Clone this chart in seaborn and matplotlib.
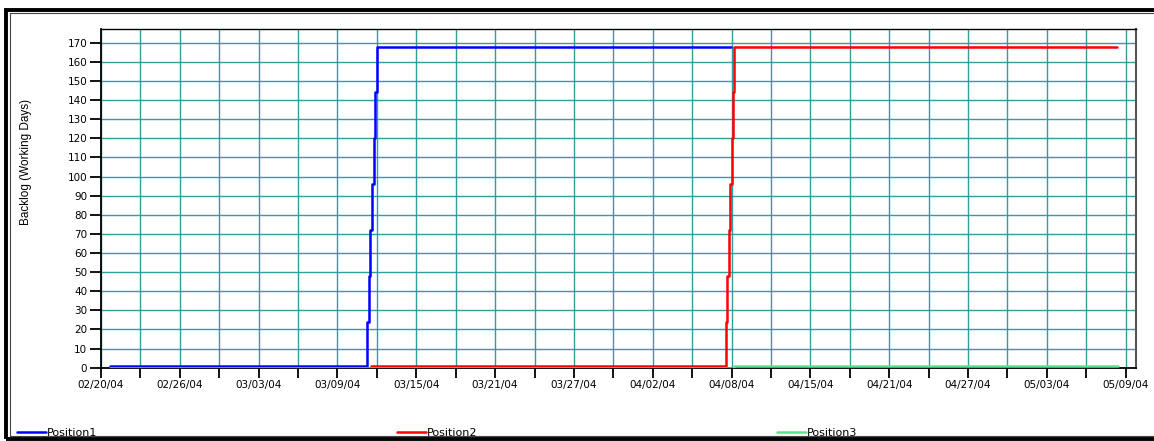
import numpy as np
import pandas as pd
import matplotlib
matplotlib.use("Agg")
import matplotlib.pyplot as plt
import seaborn as sns
from matplotlib.patches import Rectangle

# -----------------------------
# Data (days after 02/20/04, backlog in working days)
# -----------------------------
p1_days = [0.7, 20.48, 20.64, 20.76, 20.89, 21.02, 21.12, 21.28, 48.6]
p1_vals = [1, 24, 48, 72, 96, 120, 144, 168, 168]

p2_days = [20.8, 48.16, 48.28, 48.39, 48.49, 48.62, 48.70, 48.82, 78.3]
p2_vals = [1, 24, 48, 72, 96, 120, 144, 168, 168]

p3_days = [0.7, 48.8, 78.4]
p3_vals = [0, 1, 1]

date_labels = ["02/20/04", "02/26/04", "03/03/04", "03/09/04", "03/15/04",
               "03/21/04", "03/27/04", "04/02/04", "04/08/04", "04/15/04",
               "04/21/04", "04/27/04", "05/03/04", "05/09/04"]

series = {"Position1": (p1_days, p1_vals, "#0000ff"),
          "Position2": (p2_days, p2_vals, "#ff0000"),
          "Position3": (p3_days, p3_vals, "#5be38a")}

sns.set_style("white")
plt.rcParams["font.family"] = ["DejaVu Sans"]
plt.rcParams["text.color"] = "black"
plt.rcParams["xtick.color"] = "black"
plt.rcParams["ytick.color"] = "black"

fig = plt.figure(figsize=(11.54, 4.41), dpi=100)
fig.patch.set_facecolor("white")
ax = fig.add_axes([101 / 1154, 1 - 367.7 / 441, (1135.7 - 101) / 1154, (367.7 - 29.3) / 441])

grid_col = "#1a9494"
for name, (d, v, c) in series.items():
    df = pd.DataFrame({"day": d, "value": v})
    sns.lineplot(data=df, x="day", y="value", ax=ax, color=c, lw=1.8,
                 drawstyle="steps-post", estimator=None, sort=False,
                 label=name, legend=False, zorder=3)

# axes limits and ticks
ax.set_xlim(0, 79.77)
ax.set_ylim(0, 177)
xt = np.linspace(0, 79, 27)
ax.set_xticks(xt)
lab = []
for i in range(27):
    lab.append(date_labels[i // 2] if i % 2 == 0 else "")
ax.set_xticklabels(lab, fontsize=7.5)
ax.set_yticks(np.arange(0, 171, 10))
ax.tick_params(axis="y", labelsize=7.5, length=8, width=1.3, direction="out", pad=2, left=True)
ax.tick_params(axis="x", length=7, width=1.3, direction="out", pad=2, bottom=True)

ax.grid(True, color=grid_col, lw=1.0, alpha=0.9, zorder=0)
ax.set_axisbelow(True)

ax.set_xlabel("")
ax.set_ylabel("Backlog (Working Days)", fontsize=8.5, family="Liberation Sans", color="black")
ax.yaxis.set_label_coords(-(101 - 32) / (1135.7 - 101), (367.7 - 161.5) / (367.7 - 29.3))

for s in ["left", "bottom", "top"]:
    ax.spines[s].set_color("black")
    ax.spines[s].set_linewidth(1.3)
ax.spines["top"].set_linewidth(1.0)
ax.spines["right"].set_color("#555555")
ax.spines["right"].set_linewidth(1.5)

# legend along the bottom
handles, labels = ax.get_legend_handles_labels()
fig.legend(handles, labels, ncol=3, loc="lower left", mode="expand",
           bbox_to_anchor=(17 / 1154, 3 / 441, 840 / 1154, 15 / 441),
           frameon=False, fontsize=8, handlelength=2.6, handletextpad=0.05,
           borderaxespad=0, borderpad=0)

# outer frame of the picture
fig.patches.append(Rectangle((6 / 1154, 2 / 441), 1.2, 429 / 441, transform=fig.transFigure,
                             fill=False, edgecolor="black", lw=2.8, zorder=10))
fig.patches.append(Rectangle((9.5 / 1154, 5 / 441), 1.2, 423 / 441, transform=fig.transFigure,
                             fill=False, edgecolor="#444444", lw=0.8, zorder=10))

plt.savefig("out.png", dpi=100)
